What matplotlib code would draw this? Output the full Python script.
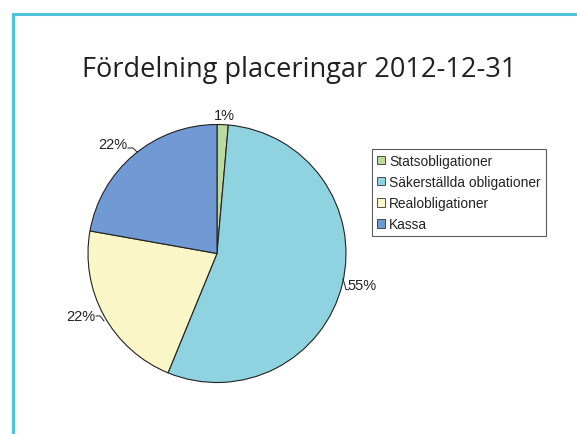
import matplotlib
matplotlib.use("Agg")
import matplotlib.pyplot as plt
from matplotlib.patches import Rectangle

categories = ["Statsobligationer", "Säkerställda obligationer", "Realobligationer", "Kassa"]
values = [1.4, 54.8, 21.6, 22.2]
labels = ["1%", "55%", "22%", "22%"]
colors = ["#BDD9A0", "#8FD3E0", "#FAF6C8", "#7199D3"]
title = "Fördelning placeringar 2012-12-31"

W, H = 577, 435
fig = plt.figure(figsize=(W/100, H/100), dpi=100)
fig.patch.set_facecolor("white")

# frame (left and top edges visible)
fig.add_artist(Rectangle((13/W, -0.1), 1.2, 1.1 - 15/H, transform=fig.transFigure,
                         fill=False, edgecolor="#4EC5DB", linewidth=2.2))

fig.text(299/W, 1 - 77/H, title, ha="center", va="baseline", fontsize=19.5,
         family="Open Sans", color="#231F20")

# pie axes
cx, cy, r = 217, 254.5, 129
ax = fig.add_axes([(cx - r)/W, 1 - (cy + r)/H, 2*r/W, 2*r/H])
wedges, _ = ax.pie(values, colors=colors, startangle=90, counterclock=False,
                   wedgeprops=dict(edgecolor="#222222", linewidth=0.8), radius=1.0)
ax.set_xlim(-1, 1)
ax.set_ylim(-1, 1)
ax.set_aspect("equal")
ax.axis("off")

# label placement (axes units) and leader lines
label_xy = [(0.054, 1.074, "center"), (1.01, -0.244, "left"),
            (-0.946, -0.484, "right"), (-0.698, 0.849, "right")]
leaders = [None,
           [(0.977, -0.195), (1.0, -0.28), (1.02, -0.28)],
           [(-0.938, -0.484), (-0.907, -0.484), (-0.876, -0.523)],
           [(-0.690, 0.818), (-0.651, 0.818), (-0.620, 0.787)]]
for lab, (lx, ly, ha), lead in zip(labels, label_xy, leaders):
    ax.text(lx, ly, lab, ha=ha, va="center", fontsize=10.5, family="Liberation Sans",
            color="#222222", clip_on=False)
    if lead is not None:
        xs, ys = zip(*lead)
        ax.plot(xs, ys, color="#222222", lw=0.7, clip_on=False)

leg = fig.legend(wedges, categories, loc="upper left",
                 bbox_to_anchor=(372/W, 1 - 150/H), frameon=True, fancybox=False,
                 prop=dict(family="Liberation Sans", size=9.9), handlelength=0.6,
                 handleheight=0.6, handletextpad=0.3, borderpad=0.35, labelspacing=0.52,
                 borderaxespad=0)
leg.get_frame().set_edgecolor("#333333")
leg.get_frame().set_linewidth(0.8)
for t in leg.get_texts():
    t.set_color("#222222")
for h in leg.legend_handles:
    h.set_edgecolor("#333333")
    h.set_linewidth(0.6)

fig.savefig("out.png", dpi=100)
